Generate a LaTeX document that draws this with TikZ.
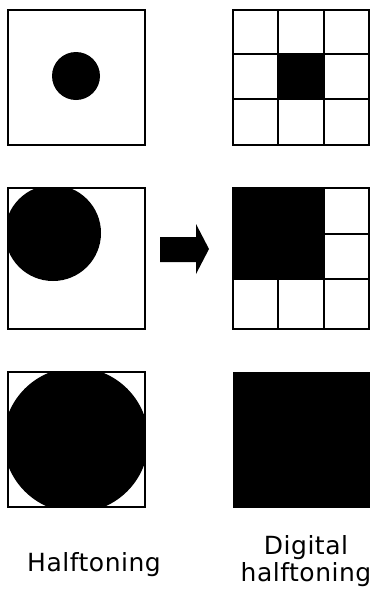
\documentclass[tikz,border=0pt]{standalone}
\usepackage{fontspec}
\newfontfamily\labelfont{DejaVu Sans}[LetterSpace=2.0]
\usepackage{tikz}
\usetikzlibrary{positioning}

\tikzset{
  frame/.style={draw=black, line width=2.5pt},
  caption/.style={font=\labelfont\fontsize{25}{27}\selectfont, align=center, inner sep=0pt}
}

\begin{document}
\begin{tikzpicture}[x=1pt, y=-1pt]
\useasboundingbox (0,0) rectangle (372,595);

% Define halftone box macro
% Arguments: x, y, width, height, dot-x, dot-y, dot radius
\def\halfbox#1#2#3#4#5#6#7{
    \begin{scope}
    \clip (#1,#2) rectangle ++(#3,#4);
    \fill[black] (#5,#6) circle (#7);
    \end{scope}
    \draw[frame] (#1,#2) rectangle ++(#3,#4);
}

% Left column: dots growing
\halfbox{8}{10}{137}{135}{76}{76}{24}
\halfbox{8}{188}{137}{141}{53}{233}{48}
\halfbox{8}{372}{137}{135}{76}{440}{72.5}

% Right column, top: one cell on
\fill[black] (278,54) rectangle (324,99);
\draw[frame] (233,10) rectangle (369,145);
\foreach \gx in {278,324} \draw[frame] (\gx,10) -- (\gx,145);
\foreach \gy in {54,99} \draw[frame] (233,\gy) -- (369,\gy);

% Right column, middle: four cells on
\fill[black] (233,188) rectangle (324,279);
\draw[frame] (233,188) rectangle (369,329);
\draw[frame] (324,188) -- (324,329);
\draw[frame] (278,279) -- (278,329);
\draw[frame] (233,279) -- (369,279);
\draw[frame] (324,234) -- (369,234);

% Right column, bottom: all cells on
\fill[black] (233,372) rectangle (370,508);

% Block arrow
\fill[black] (160,237) -- (196,237) -- (196,224) -- (209,249)
    -- (196,274) -- (196,262) -- (160,262) -- cycle;

% Captions
\node[caption] (halftone) at (94,565) {Halftoning};
\node[caption] (digital) at (306,561) {Digital\\halftoning};

\end{tikzpicture}
\end{document}
